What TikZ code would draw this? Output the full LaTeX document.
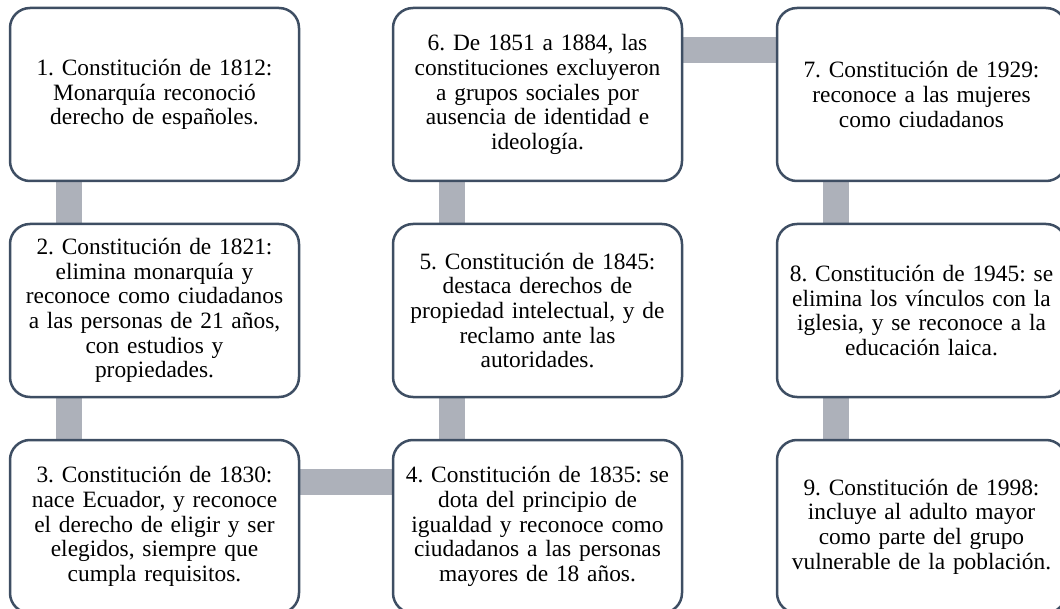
\documentclass[tikz,border=0pt]{standalone}
\usepackage{fontspec}
\setmainfont{Liberation Serif}
\usetikzlibrary{backgrounds}
\definecolor{boxline}{RGB}{62,78,99}
\definecolor{connfill}{RGB}{173,177,186}
\tikzset{
  stepbox/.style={draw=boxline, line width=2.5pt, rounded corners=20pt, fill=white,
    minimum width=289pt, minimum height=173pt, text width=285pt, inner xsep=2pt,
    align=center, anchor=north west, outer sep=0pt,
    font=\fontsize{23.4}{24.6}\selectfont\frenchspacing},
  conn/.style={draw=connfill, line width=26pt}
}
\begin{document}
\begin{tikzpicture}[x=1pt,y=-1pt]
\useasboundingbox (0,0) rectangle (1060,609);
\clip (0,0) rectangle (1060,609);
\node[stepbox] (b1) at (10,8) {1. Constitución de 1812:\\ Monarquía reconoció\\ derecho de españoles.};
\node[stepbox] (b2) at (10,224) {2. Constitución de 1821:\\ elimina monarquía y\\ reconoce como ciudadanos\\ a las personas de 21 años,\\ con estudios y\\ propiedades.};
\node[stepbox] (b3) at (10,440) {3. Constitución de 1830:\\ nace Ecuador, y reconoce\\ el derecho de eligir y ser\\ elegidos, siempre que\\ cumpla requisitos.};
\node[stepbox] (b4) at (393,440) {4. Constitución de 1835: se\\ dota del principio de\\ igualdad y reconoce como\\ ciudadanos a las personas\\ mayores de 18 años.};
\node[stepbox] (b5) at (393,224) {5. Constitución de 1845:\\ destaca derechos de\\ propiedad intelectual, y de\\ reclamo ante las\\ autoridades.};
\node[stepbox] (b6) at (393,8) {6. De 1851 a 1884, las\\ constituciones excluyeron\\ a grupos sociales por\\ ausencia de identidad e\\ ideología.};
\node[stepbox] (b7) at (777,8) {7. Constitución de 1929:\\ reconoce a las mujeres\\ como ciudadanos};
\node[stepbox] (b8) at (777,224) {8. Constitución de 1945: se\\ elimina los vínculos con la\\ iglesia, y se reconoce a la\\ educación laica.};
\node[stepbox] (b9) at (777,440) {9. Constitución de 1998:\\ incluye al adulto mayor\\ como parte del grupo\\ vulnerable de la población.};
\begin{scope}[on background layer]
\draw[conn] ([xshift=59pt]b1.south west) -- ([xshift=59pt]b2.north west);
\draw[conn] ([xshift=59pt]b2.south west) -- ([xshift=59pt]b3.north west);
\draw[conn] ([yshift=-41.5pt]b3.north east) -- ([yshift=-41.5pt]b4.north west);
\draw[conn] ([xshift=59pt]b4.north west) -- ([xshift=59pt]b5.south west);
\draw[conn] ([xshift=59pt]b5.north west) -- ([xshift=59pt]b6.south west);
\draw[conn] ([yshift=-42.5pt]b6.north east) -- ([yshift=-42.5pt]b7.north west);
\draw[conn] ([xshift=59pt]b7.south west) -- ([xshift=59pt]b8.north west);
\draw[conn] ([xshift=59pt]b8.south west) -- ([xshift=59pt]b9.north west);
\end{scope}
\end{tikzpicture}
\end{document}
